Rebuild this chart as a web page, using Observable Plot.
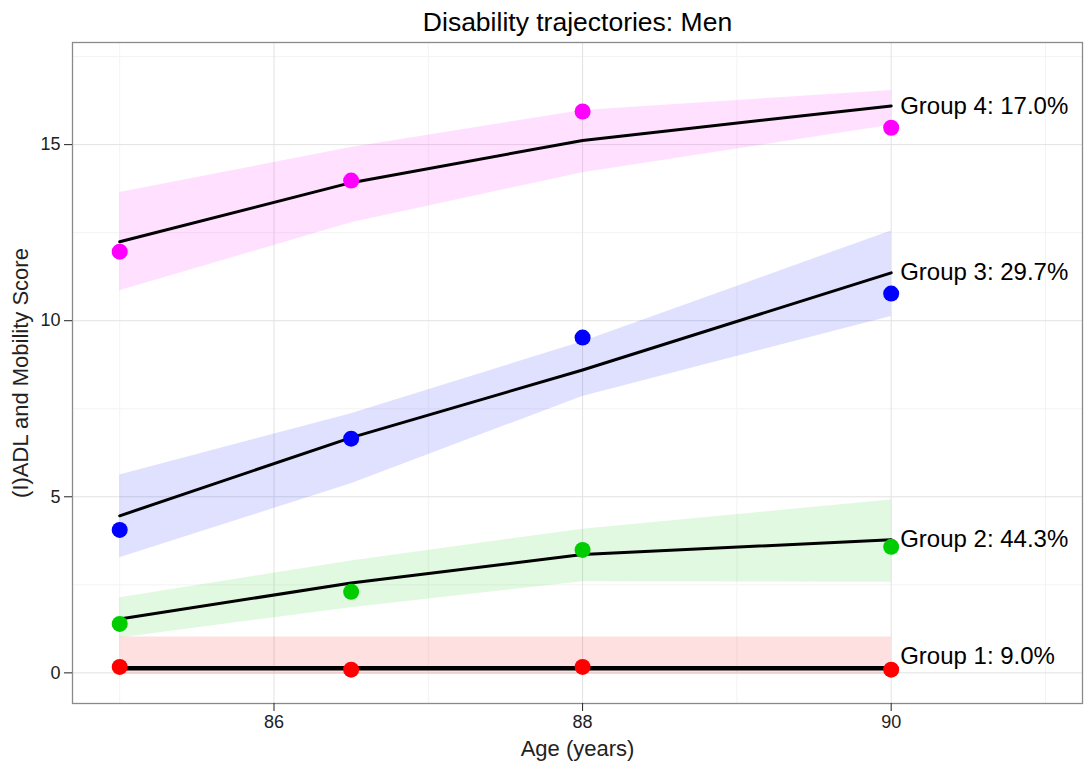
<!DOCTYPE html>
<html>
<head>
<meta charset="utf-8">
<script src="https://cdn.jsdelivr.net/npm/d3@7"></script>
<script src="https://cdn.jsdelivr.net/npm/@observablehq/plot@0.6"></script>
<style>
  html, body { margin: 0; padding: 0; background: #fff; }
  #chart { width: 1089px; height: 767px; }
</style>
</head>
<body>
<div id="chart"></div>
<script>
// ---- Data ----
const ages = [85, 86.5, 88, 90];
const groups = ["Group 1", "Group 2", "Group 3", "Group 4"];
const shares = ["9.0%", "44.3%", "29.7%", "17.0%"];
const colors = ["#ff0000", "#00cc00", "#0000ff", "#ff00ff"];

// observed means (dots)
const obsG1 = [0.17, 0.09, 0.17, 0.09];
const obsG2 = [1.39, 2.30, 3.49, 3.58];
const obsG3 = [4.06, 6.65, 9.52, 10.77];
const obsG4 = [11.96, 13.98, 15.94, 15.48];

// fitted trajectories (black lines)
const fitG1 = [0.13, 0.13, 0.13, 0.13];
const fitG2 = [1.53, 2.55, 3.36, 3.78];
const fitG3 = [4.46, 6.68, 8.60, 11.36];
const fitG4 = [12.24, 13.92, 15.12, 16.10];

// confidence bands
const loG1 = [-0.05, -0.05, -0.05, -0.05];
const hiG1 = [1.02, 1.02, 1.02, 1.02];
const loG2 = [0.99, 1.85, 2.59, 2.57];
const hiG2 = [2.13, 3.18, 4.08, 4.91];
const loG3 = [3.27, 5.37, 7.85, 10.12];
const hiG3 = [5.62, 7.36, 9.40, 12.55];
const loG4 = [10.85, 12.78, 14.20, 15.55];
const hiG4 = [13.64, 14.92, 15.97, 16.54];

// label anchor values (in score units) at age 90
const labelY = [0.48, 3.78, 11.36, 16.10];

const xTicks = [86, 88, 90];
const xMinor = [85, 87, 89, 91];
const yTicks = [0, 5, 10, 15];
const yMinor = [2.5, 7.5, 12.5, 17.5];

const obs = [obsG1, obsG2, obsG3, obsG4];
const fit = [fitG1, fitG2, fitG3, fitG4];
const lo = [loG1, loG2, loG3, loG4];
const hi = [hiG1, hiG2, hiG3, hiG4];

const rows = [];
groups.forEach((g, gi) => {
  ages.forEach((a, i) => {
    rows.push({group: g, age: a, obs: obs[gi][i], fit: fit[gi][i], lo: lo[gi][i], hi: hi[gi][i]});
  });
});
const labels = groups.map((g, gi) => ({group: g, age: 90, y: labelY[gi], text: `${g}: ${shares[gi]}`}));

const font = "'Liberation Sans', Arial, sans-serif";

const chart = Plot.plot({
  width: 1089,
  height: 767,
  marginLeft: 72,
  marginRight: 7,
  marginTop: 42,
  marginBottom: 64,
  style: {fontFamily: font, background: "#fff", color: "#222"},
  x: {domain: [84.694, 91.24]},
  y: {domain: [-0.87, 17.9]},
  color: {domain: groups, range: colors},
  marks: [
    Plot.gridX(xMinor, {stroke: "#f3f3f3", strokeOpacity: 1}),
    Plot.gridY(yMinor, {stroke: "#f3f3f3", strokeOpacity: 1}),
    Plot.gridX(xTicks, {stroke: "#e2e2e2", strokeOpacity: 1}),
    Plot.gridY(yTicks, {stroke: "#e2e2e2", strokeOpacity: 1}),
    Plot.areaY(rows, {x: "age", y1: "lo", y2: "hi", z: "group", fill: "group", fillOpacity: 0.12}),
    Plot.line(rows.filter(d => d.group !== "Group 1"), {x: "age", y: "fit", z: "group", stroke: "#000", strokeWidth: 3}),
    Plot.line(rows.filter(d => d.group === "Group 1"), {x: "age", y: "fit", z: "group", stroke: "#000", strokeWidth: 4.5}),
    Plot.dot(rows, {x: "age", y: "obs", fill: "group", r: 8}),
    Plot.text(labels, {x: "age", y: "y", text: "text", dx: 9, textAnchor: "start", fontSize: 24, fill: "#000"}),
    Plot.frame({stroke: "#8a8a8a", strokeWidth: 1.3}),
    Plot.axisX({ticks: xTicks, tickFormat: d => String(d), tickSize: 8, tickPadding: 4, fontSize: 18, label: "Age (years)", labelAnchor: "center", labelArrow: "none", labelOffset: 52}),
    Plot.axisY({ticks: yTicks, tickFormat: d => String(d), tickSize: 8, tickPadding: 4, fontSize: 18, label: "(I)ADL and Mobility Score", labelAnchor: "center", labelArrow: "none", labelOffset: 60}),
    Plot.text(["Disability trajectories: Men"], {frameAnchor: "top", lineAnchor: "middle", dy: -20, fontSize: 26.5, fill: "#000"})
  ]
});
// make axis label sizes match the reference
chart.querySelectorAll("g[aria-label='x-axis label'] text, g[aria-label='y-axis label'] text").forEach(t => t.setAttribute("font-size", "22"));
document.getElementById("chart").appendChild(chart);
</script>
</body>
</html>
